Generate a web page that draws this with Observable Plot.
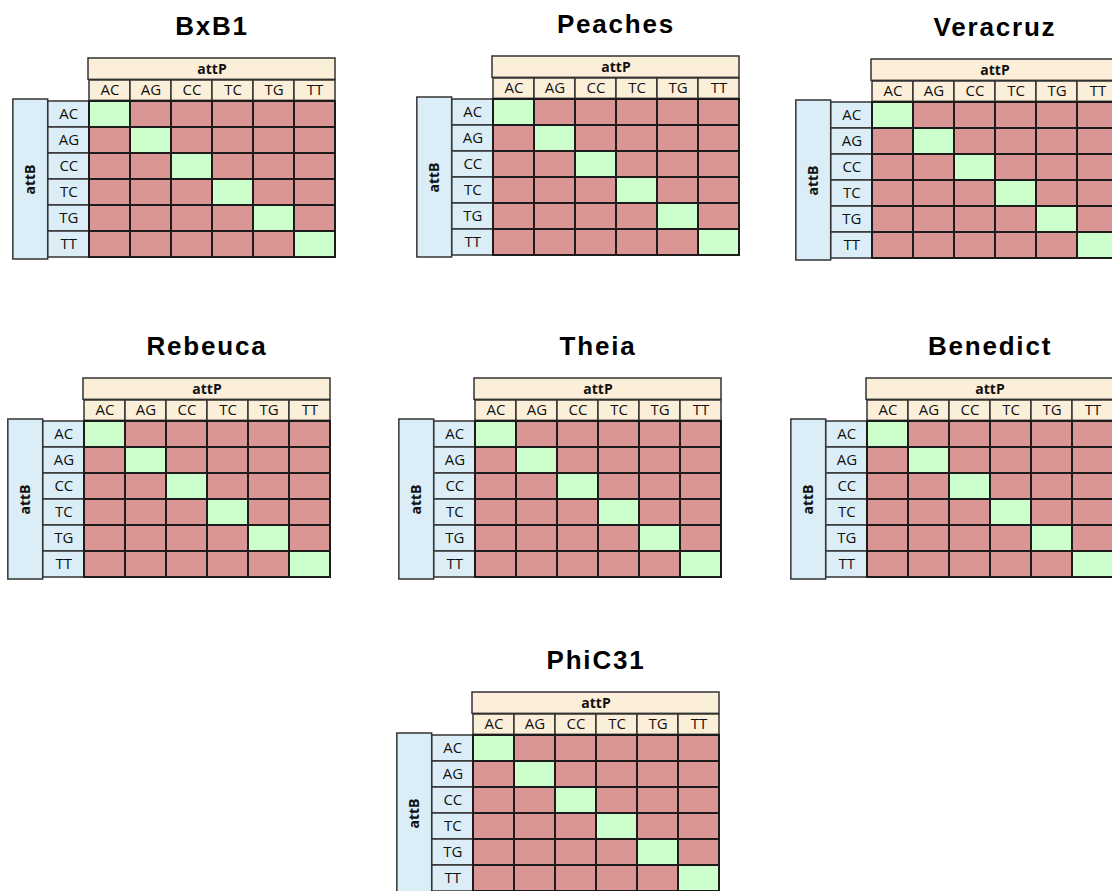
<!DOCTYPE html>
<html>
<head>
<meta charset="utf-8">
<script src="https://cdn.jsdelivr.net/npm/d3@7"></script>
<script src="https://cdn.jsdelivr.net/npm/@observablehq/plot@0.6"></script>
<style>
  html, body { margin: 0; padding: 0; background: #fff; overflow: hidden; }
  #chart { position: relative; width: 1112px; height: 891px; overflow: hidden; background: #fff; }
  #chart svg { position: absolute; overflow: visible; }
</style>
</head>
<body>
<div id="chart"></div>
<script>
// ---- data ----
const phages = ["BxB1", "Peaches", "Veracruz", "Rebeuca", "Theia", "Benedict", "PhiC31"];
const attP = ["AC", "AG", "CC", "TC", "TG", "TT"];
const attB = ["AC", "AG", "CC", "TC", "TG", "TT"];
// recombination observed (1) or not (0); rows = attB, columns = attP (same pattern in every panel)
const recombines = [
  [1, 0, 0, 0, 0, 0],
  [0, 1, 0, 0, 0, 0],
  [0, 0, 1, 0, 0, 0],
  [0, 0, 0, 1, 0, 0],
  [0, 0, 0, 0, 1, 0],
  [0, 0, 0, 0, 0, 1]
];

// ---- layout (grid top-left corner of each panel on the page) ----
const gridOrigin = [[88, 99], [492, 97], [871, 100], [83, 419], [474, 419], [866, 419], [472, 733]];

const GREEN = "#ccffcc", RED = "#da9694", TAN = "#fcefd9", BLUE = "#dbeef7";
const LINE = "#1c1c1c";
const ML = 80, MT = 92, MR = 4, MB = 4, W = 247, H = 160;
const cw = W / attP.length, rh = H / attB.length;
const LABEL_FONT = "'Open Sans', 'Noto Sans', sans-serif";

const cells = attB.flatMap((b, i) => attP.map((p, j) => ({b, p, ok: recombines[i][j] === 1})));

function panel(name, [gx, gy]) {
  const svg = Plot.plot({
    width: ML + W + MR,
    height: MT + H + MB,
    marginLeft: ML, marginTop: MT, marginRight: MR, marginBottom: MB,
    x: {type: "band", domain: attP, padding: 0, axis: null},
    y: {type: "band", domain: attB, padding: 0, axis: null},
    color: {type: "ordinal", domain: [true, false], range: [GREEN, RED]},
    style: {fontFamily: LABEL_FONT, fontSize: "15px", color: "#111", background: "transparent", overflow: "visible"},
    marks: [
      // attP header box (spans all columns)
      Plot.cell([name], {y: () => attB[0], dy: -rh - 21, insetTop: rh - 22, fill: TAN, stroke: "#333", strokeWidth: 1.5}),
      // attP column label boxes
      Plot.cell(attP, {x: d => d, y: () => attB[0], dy: -rh, insetTop: rh - 21, fill: TAN, stroke: "#333", strokeWidth: 1.5}),
      // attB strip (spans all rows)
      Plot.cell([name], {x: () => attP[0], dx: -2 * cw, insetLeft: cw - 35, fill: BLUE, stroke: "#333", strokeWidth: 1.5}),
      // attB row label boxes
      Plot.cell(attB, {y: d => d, x: () => attP[0], dx: -cw, fill: BLUE, stroke: "#333", strokeWidth: 1.5}),
      // result grid
      Plot.cell(cells, {x: "p", y: "b", fill: "ok", stroke: LINE, strokeWidth: 2}),
      // texts
      Plot.text(attP, {x: d => d, y: () => attB[0], dy: -rh / 2 - 10.5, text: d => d, fontSize: 15, fill: "#111"}),
      Plot.text(attB, {y: d => d, x: () => attP[0], dx: -cw, text: d => d, fontSize: 15, fill: "#111"}),
      Plot.text([name], {y: () => attB[0], dy: -rh / 2 - 32, text: () => "attP", fontWeight: "bold", fontSize: 14, fill: "#111"}),
      Plot.text([name], {x: () => attP[0], dx: -cw / 2 - 41 - 17.5, text: () => "attB", rotate: -90, fontWeight: "bold", fontSize: 14, fill: "#111"}),
      // panel title
      Plot.text([name], {y: () => attB[0], dy: -rh / 2 - 74, text: d => d, fontSize: 26, fontWeight: "bold",
        fontFamily: "'Liberation Sans', Arial, sans-serif", fill: "#000"})
    ]
  });
  svg.style.left = (gx - ML) + "px";
  svg.style.top = (gy - MT) + "px";
  svg.querySelectorAll("text").forEach(t => {
    if (t.textContent === name) t.style.letterSpacing = "1.8px";
  });
  return svg;
}

const root = document.getElementById("chart");
phages.forEach((name, k) => root.appendChild(panel(name, gridOrigin[k])));
</script>
</body>
</html>
